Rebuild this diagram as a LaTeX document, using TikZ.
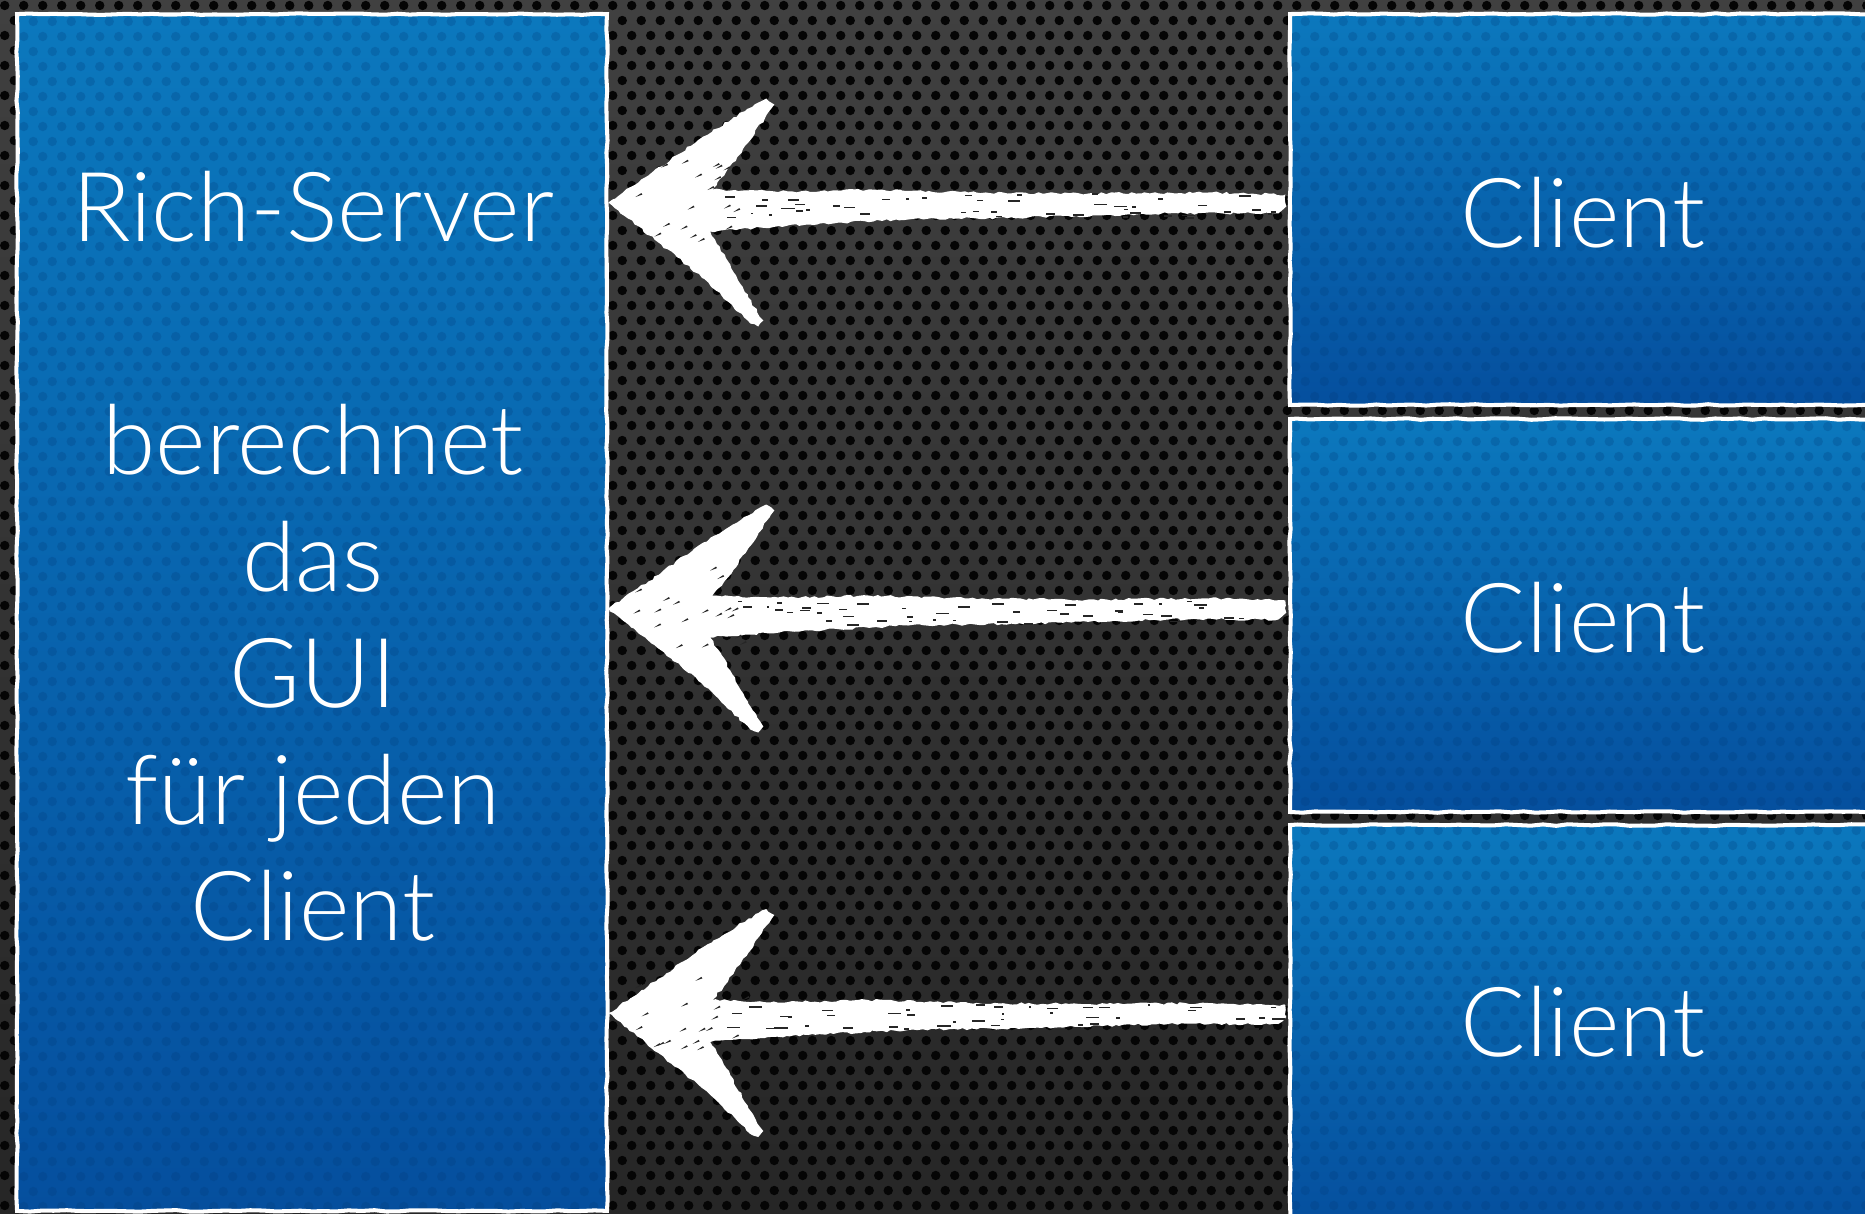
\documentclass[tikz,border=0pt]{standalone}
\usepackage{fontspec}
\newfontfamily\labelfont{Lato Light}
\usetikzlibrary{calc,patterns,decorations.pathmorphing}

% perforated metal: staggered rows of round holes
\pgfdeclarepatternformonly{perfholes}{\pgfqpoint{0pt}{0pt}}{\pgfqpoint{10.81pt}{17.07pt}}{\pgfqpoint{10.81pt}{17.07pt}}{%
  \pgfpathcircle{\pgfqpoint{2.70pt}{4.27pt}}{2.68pt}%
  \pgfpathcircle{\pgfqpoint{8.11pt}{12.80pt}}{2.68pt}%
  \pgfusepath{fill}}
% faint embossed dots on the blue panels
\pgfdeclarepatternformonly{paneldots}{\pgfqpoint{0pt}{0pt}}{\pgfqpoint{10.81pt}{17.07pt}}{\pgfqpoint{10.81pt}{17.07pt}}{%
  \pgfpathcircle{\pgfqpoint{2.70pt}{4.27pt}}{2.68pt}%
  \pgfpathcircle{\pgfqpoint{8.11pt}{12.80pt}}{2.68pt}%
  \pgfusepath{fill}}

\definecolor{bgtop}{HTML}{404040}
\definecolor{bgbot}{HTML}{262626}
\definecolor{holecol}{HTML}{050505}
\definecolor{bluetop}{HTML}{0B78BD}
\definecolor{bluebot}{HTML}{054F9E}
\definecolor{bluedot}{HTML}{023C7A}
\definecolor{chalkspeck}{HTML}{262626}

\tikzset{
  panel/.style={rectangle, inner sep=0pt, top color=bluetop, bottom color=bluebot,
    postaction={fill opacity=0.25, pattern=paneldots, pattern color=bluedot},
    postaction={draw=white, line width=2.3pt, decorate,
      decoration={random steps, segment length=7pt, amplitude=0.45pt}}},
  lbl/.style={font=\labelfont\fontsize{55}{66}\selectfont, text=white, inner sep=0pt, anchor=base},
  chalk/.style={fill=white, decorate,
    decoration={random steps, segment length=2.5pt, amplitude=0.7pt}},
  chalkarrow/.pic={
    % head and tapering shaft, tip at the origin
    \fill[chalk] (0,0) -- (40,-27) -- (95,-66) -- (150,-100) -- (158,-104) -- (166,-98)
      -- (140,-60) -- (116,-27) -- (104,-13)
      -- (180,-11) -- (260,-13) -- (360,-10) -- (480,-9) -- (600,-10) -- (677,-8)
      -- (678,4) -- (670,11)
      -- (560,11) -- (420,15) -- (300,17) -- (200,22) -- (140,26) -- (102,29)
      -- (122,62) -- (140,95) -- (155,118) -- (150,124) -- (142,121)
      -- (100,80) -- (50,40) -- (10,8) -- cycle;
    % chalk grain
    \foreach \k in {1,...,45}{
      \pgfmathsetmacro\sx{110+560*rnd}
      \pgfmathsetmacro\sy{-10+26*rnd}
      \pgfmathsetmacro\sl{2+12*rnd}
      \fill[chalkspeck] (\sx,\sy) rectangle ++(\sl,1.5);
    }
    \foreach \k in {1,...,18}{
      \pgfmathsetmacro\sx{25+110*rnd}
      \pgfmathsetmacro\sy{-40+80*rnd}
      \fill[chalkspeck] (\sx,\sy) -- ++(6,-4) -- ++(1,1.5) -- cycle;
    }
  }
}

\begin{document}
\begin{tikzpicture}[x=0.02cm, y=-0.02cm]
\pgfmathsetseed{4711}
\useasboundingbox (0,0) rectangle (1865,1213);
\clip (0,0) rectangle (1865,1213);

% perforated backdrop
\fill[top color=bgtop, bottom color=bgbot] (0,0) rectangle (1865,1213);
\fill[pattern=perfholes, pattern color=holecol] (0,0) rectangle (1865,1213);

% server panel and three client panels
\node[panel, minimum width=11.8cm, minimum height=23.94cm] (srv) at (312,612.5) {};
\node[panel, minimum width=12.2cm, minimum height=7.82cm] (cl1) at (1595,209.5) {};
\node[panel, minimum width=12.2cm, minimum height=7.86cm] (cl2) at (1595,615.5) {};
\node[panel, minimum width=12.2cm, minimum height=8.0cm] (cl3) at (1595,1025) {};

% texts
\node[lbl] (t1) at (313,241) {Rich-Server};
\node[lbl] (t2) at (313,474) {berechnet};
\node[lbl] (t3) at (313,591) {das};
\node[lbl] (t4) at (313,707) {GUI};
\node[lbl] (t5) at (313,824) {für jeden};
\node[lbl] (t6) at (313,940) {Client};
\node[lbl] (c1) at (1583,247) {Client};
\node[lbl] (c2) at (1583,652) {Client};
\node[lbl] (c3) at (1583,1056) {Client};

% chalk arrows from each client to the server
\coordinate (a1) at ($(srv.east |- cl1.west)+(1,-7)$);
\coordinate (a2) at ($(srv.east |- cl2.west)+(1,-7)$);
\coordinate (a3) at ($(srv.east |- cl3.west)+(1,-12)$);
\pic at (a1) {chalkarrow};
\pic at (a2) {chalkarrow};
\pic at (a3) {chalkarrow};
\end{tikzpicture}
\end{document}
